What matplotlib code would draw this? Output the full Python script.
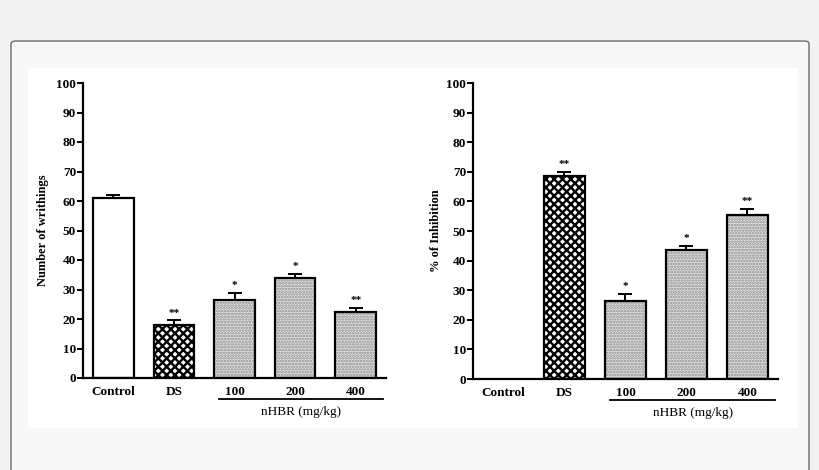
import numpy as np
import matplotlib.pyplot as plt
from matplotlib.patches import FancyBboxPatch, Rectangle

plt.rcParams['font.family'] = ['Liberation Serif', 'DejaVu Serif']
plt.rcParams['hatch.linewidth'] = 1.2

groups = ['Control', 'DS', '100', '200', '400']
writhings = [61.0, 18.0, 26.5, 34.0, 22.5]
writhings_err = [1.2, 1.5, 2.2, 1.2, 1.2]
writhings_sig = ['', '**', '*', '*', '**']
inhibition = [0.0, 68.5, 26.5, 43.5, 55.5]
inhibition_err = [0.0, 1.3, 2.2, 1.3, 2.0]
inhibition_sig = ['', '**', '*', '*', '**']
yticks = list(range(0, 101, 10))

W, H = 820, 470
fig = plt.figure(figsize=(W / 100, H / 100), dpi=100)
fig.patch.set_facecolor('#f2f2f2')

# card + white picture area, in pixel units
def px(x0, y0, x1, y1):
    return x0 / W, 1 - y1 / H, (x1 - x0) / W, (y1 - y0) / H

bx, by, bw, bh = px(11, 41, 809, 500)
fig.patches.append(FancyBboxPatch((bx, by), bw, bh, boxstyle='round,pad=0,rounding_size=0.006',
                                  transform=fig.transFigure, facecolor='#f7f7f7',
                                  edgecolor='#6a6a6a', linewidth=1.0, zorder=-2))
wx, wy, ww, wh = px(28, 68, 798, 428)
fig.patches.append(Rectangle((wx, wy), ww, wh, transform=fig.transFigure,
                             facecolor='white', edgecolor='none', zorder=-1))

styles = [
    dict(face='white', hatch=None, hcol='black', hlw=1.2),
    dict(face='white', hatch='xxxx', hcol='black', hlw=1.7),
    dict(face='#e2e2e2', hatch='......', hcol='#8a8a8a', hlw=1.2),
    dict(face='#e2e2e2', hatch='......', hcol='#8a8a8a', hlw=1.2),
    dict(face='#e2e2e2', hatch='......', hcol='#8a8a8a', hlw=1.2),
]


def panel(rect, vals, errs, sig, ylabel, ylabel_x):
    ax = fig.add_axes(rect)
    ax.set_facecolor('none')
    x = np.arange(len(groups))
    for i in x:
        if vals[i] <= 0:
            continue
        st = styles[i]
        with plt.rc_context({'hatch.linewidth': st['hlw']}):
            bars = ax.bar(x[i], vals[i], width=0.67, color=st['face'], hatch=st['hatch'],
                          edgecolor=st['hcol'], linewidth=0, zorder=2)
        for b in bars:
            if hasattr(b, 'set_hatch_linewidth'):
                b.set_hatch_linewidth(st['hlw'])
        ax.bar(x[i], vals[i], width=0.67, color='none', edgecolor='black',
               linewidth=1.6, zorder=3)
        ax.errorbar(x[i], vals[i], yerr=[[0], [errs[i]]], fmt='none', ecolor='black',
                    elinewidth=1.4, capsize=5, capthick=1.4, zorder=4)
        ax.text(x[i], vals[i] + errs[i] + 1.0, sig[i], ha='center', va='bottom',
                fontsize=8, fontweight='bold')
    ax.set_xlim(-0.5, 4.5)
    ax.set_ylim(0, 100)
    ax.set_yticks(yticks)
    ax.set_xticks(x)
    ax.set_xticklabels(groups)
    for lab in ax.get_xticklabels() + ax.get_yticklabels():
        lab.set_fontweight('bold')
    ax.tick_params(axis='y', length=4, width=1.4, labelsize=9.5, pad=1)
    ax.tick_params(axis='x', length=0, labelsize=9.5, pad=6)
    for s in ['top', 'right']:
        ax.spines[s].set_visible(False)
    for s in ['left', 'bottom']:
        ax.spines[s].set_linewidth(1.6)
    ax.set_ylabel(ylabel, fontsize=9, fontweight='bold')
    ax.yaxis.set_label_coords(ylabel_x, 0.5)
    tr = ax.get_xaxis_transform()
    ax.plot([1.75, 4.45], [-0.071, -0.071], color='black', lw=1.3,
            transform=tr, clip_on=False)
    ax.text(3.1, -0.115, 'nHBR (mg/kg)', transform=tr, ha='center', va='center',
            fontsize=9.5)
    return ax


panel([83 / W, 1 - 378 / H, 303 / W, 295 / H], writhings, writhings_err,
      writhings_sig, 'Number of writhings', -0.112)
panel([473 / W, 1 - 379 / H, 305 / W, 296 / H], inhibition, inhibition_err,
      inhibition_sig, '% of Inhibition', -0.10)

fig.savefig('out.png', dpi=100, facecolor=fig.get_facecolor())
